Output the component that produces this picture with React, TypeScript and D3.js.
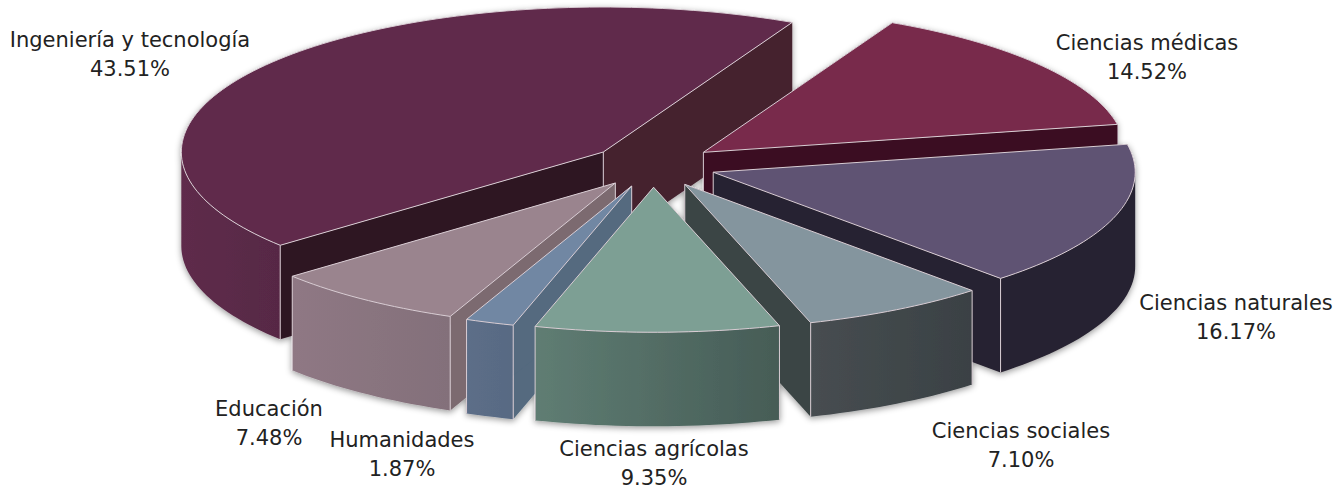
import * as d3 from 'd3'

const categories = ['Ciencias médicas', 'Ciencias naturales', 'Ciencias sociales', 'Ciencias agrícolas', 'Humanidades', 'Educación', 'Ingeniería y tecnología']
const shares = [14.52, 16.17, 7.10, 9.35, 1.87, 7.48, 43.51]
const shareLabels = ['14.52%', '16.17%', '7.10%', '9.35%', '1.87%', '7.48%', '43.51%']

// top, start cut, end cut, outer wall left, outer wall right
const topColors = ['#782c4c', '#5f5273', '#84959e', '#7d9f94', '#7187a3', '#9a848e', '#612c4c']
const startCutColors = ['#3a0f20', '#272230', '#3a4444', '#475e58', '#546a7f', '#7c6a70', '#2e1320']
const endCutColors = ['#3a0f20', '#272230', '#3a4444', '#475e58', '#546a7f', '#7c6a70', '#45202f']
const wallLeft = ['#5a2038', '#272230', '#474d51', '#5f7d73', '#5c6e88', '#8f7884', '#5e2c4b']
const wallRight = ['#5a2038', '#262130', '#3a4144', '#465c56', '#586a83', '#83707a', '#572845']

// label centre x and first baseline
const labelX = [1147, 1236, 1021, 654, 402, 269, 130]
const labelY = [50, 310, 438, 456, 447, 416, 47]

// painter order, back to front
const drawOrder = [6, 0, 1, 5, 2, 4, 3]

const width = 1338
const height = 488
const cx = 653
const cy = 165.5
const rx = 422
const ry = 145
const depth = 94
const explode = 0.15
const edge = '#d9cdd4'

const pieAngles = d3
  .pie<number>()
  .sort(null)
  .startAngle((26.6 * Math.PI) / 180)
  .endAngle((386.6 * Math.PI) / 180)(shares)

const project = (a: number, r: number, o: { x: number; y: number }, dy = 0): [number, number] => [
  o.x + rx * r * Math.sin(a),
  o.y - ry * r * Math.cos(a) + dy,
]

const line = d3.line()

function rim(a0: number, a1: number, o: { x: number; y: number }, dy = 0) {
  const n = Math.max(2, Math.ceil(Math.abs(a1 - a0) * 40))
  return d3.range(n + 1).map((i) => project(a0 + ((a1 - a0) * i) / n, 1, o, dy))
}

function Slice({ i }: { i: number }) {
  const { startAngle: a0, endAngle: a1 } = pieAngles[i]
  const mid = (a0 + a1) / 2
  const o = { x: cx + rx * explode * Math.sin(mid), y: cy - ry * explode * Math.cos(mid) }
  const tip = project(0, 0, o)
  const down = ([x, y]: [number, number]): [number, number] => [x, y + depth]

  const cut = (a: number) => {
    const p = project(a, 1, o)
    return [tip, p, down(p), down(tip)] as [number, number][]
  }

  // only the part of the rim between 90 and 270 degrees faces the viewer
  const w0 = Math.max(a0, Math.PI / 2)
  const w1 = Math.min(a1, 1.5 * Math.PI)
  const hasWall = w1 > w0
  const wall = hasWall ? [...rim(w0, w1, o), ...rim(w1, w0, o, depth)] : []

  const cornerLines = [a0, a1].map((a) => {
    const p = project(a, 1, o)
    return [p, down(p)] as [number, number][]
  })

  return (
    <g>
      <path d={line(cut(a0))!} fill={startCutColors[i]} />
      <path d={line(cut(a1))!} fill={endCutColors[i]} />
      <path d={line([tip, down(tip)])!} stroke={edge} strokeWidth={1} fill="none" />
      {hasWall && <path d={line(wall)! + 'Z'} fill={`url(#wall-${i})`} />}
      {hasWall && w0 === a0 && <path d={line(cornerLines[0])!} stroke={edge} strokeWidth={1} fill="none" />}
      {hasWall && w1 === a1 && <path d={line(cornerLines[1])!} stroke={edge} strokeWidth={1} fill="none" />}
      <path
        d={line([tip, ...rim(a0, a1, o)])! + 'Z'}
        fill={topColors[i]}
        stroke={edge}
        strokeWidth={1}
        strokeLinejoin="round"
      />
    </g>
  )
}

export default function App() {
  return (
    <svg
      width={width}
      height={height}
      style={{ position: 'absolute', left: 0, top: 0, background: '#fff' }}
      fontFamily="'DejaVu Sans', sans-serif"
    >
      <defs>
        {categories.map((_, i) => (
          <linearGradient key={i} id={`wall-${i}`} x1="0" x2="1" y1="0" y2="0">
            <stop offset="0" stopColor={wallLeft[i]} />
            <stop offset="1" stopColor={wallRight[i]} />
          </linearGradient>
        ))}
        <filter id="shadow" x="-5%" y="-5%" width="110%" height="115%">
          <feDropShadow dx="0" dy="2" stdDeviation="3" floodColor="#000" floodOpacity="0.4" />
        </filter>
      </defs>
      <g filter="url(#shadow)">
        {drawOrder.map((i) => (
          <Slice key={i} i={i} />
        ))}
      </g>
      <g fontSize={21} fill="#222" textAnchor="middle">
        {categories.map((c, i) => (
          <text key={c} x={labelX[i]} y={labelY[i]}>
            <tspan x={labelX[i]}>{c}</tspan>
            <tspan x={labelX[i]} dy={28.5}>
              {shareLabels[i]}
            </tspan>
          </text>
        ))}
      </g>
    </svg>
  )
}
